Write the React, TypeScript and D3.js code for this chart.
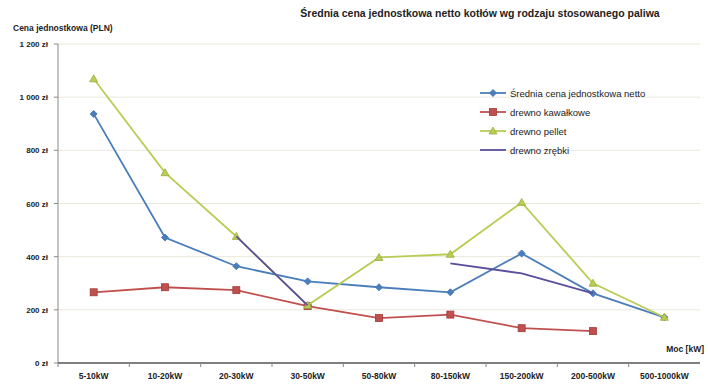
import React from "react";
import * as d3 from "d3";

const categories = ["5-10kW", "10-20kW", "20-30kW", "30-50kW", "50-80kW", "80-150kW", "150-200kW", "200-500kW", "500-1000kW"];
const sredniaValues: (number | null)[] = [937, 472, 364, 307, 285, 266, 412, 262, 172];
const kawalkoweValues: (number | null)[] = [266, 285, 274, 214, 169, 182, 131, 120, null];
const pelletValues: (number | null)[] = [1069, 716, 476, 217, 397, 409, 604, 300, 172];
const zrebkiValues: (number | null)[] = [null, null, 476, 217, null, 375, 337, 262, null];
const yTicks = [0, 200, 400, 600, 800, 1000, 1200];
const tickLabels = ["0 zł", "200 zł", "400 zł", "600 zł", "800 zł", "1 000 zł", "1 200 zł"];

const seriesNames = ["Średnia cena jednostkowa netto", "drewno kawałkowe", "drewno pellet", "drewno zrębki"];
const seriesColors = ["#4a7ebb", "#c0504d", "#b9cd55", "#5a4e9e"];
const seriesMarkers = ["diamond", "square", "triangle", "none"];
const seriesData = [sredniaValues, kawalkoweValues, pelletValues, zrebkiValues];

const W = 708;
const H = 386;
const left = 58;
const right = 700;
const top = 44;
const bottom = 363;

function Marker({ kind, x, y, color }: { kind: string; x: number; y: number; color: string }) {
  if (kind === "diamond") {
    const s = 3.5;
    return <path d={`M${x},${y - s}L${x + s},${y}L${x},${y + s}L${x - s},${y}Z`} fill={color} stroke={color} />;
  }
  if (kind === "square") {
    return <rect x={x - 3.5} y={y - 3.5} width={7} height={7} fill={color} stroke="#a03c3a" strokeWidth={0.8} />;
  }
  if (kind === "triangle") {
    return <path d={`M${x},${y - 4}L${x + 4},${y + 3}L${x - 4},${y + 3}Z`} fill={color} stroke="#9aad3e" strokeWidth={0.8} />;
  }
  return null;
}

export default function App() {
  const x = d3.scaleBand<string>().domain(categories).range([left, right]);
  const y = d3.scaleLinear().domain([0, 1200]).range([bottom, top]);
  const cx = (c: string) => (x(c) ?? 0) + x.bandwidth() / 2;

  const line = d3
    .line<number | null>()
    .defined((d) => d !== null)
    .x((_, i) => cx(categories[i]))
    .y((d) => y(d as number));

  const font = "Arial, 'Liberation Sans', sans-serif";

  return (
    <svg width={W} height={H} style={{ position: "absolute", left: 0, top: 0, background: "#fff" }} fontFamily={font}>
      <rect width={W} height={H} fill="#fff" />
      {/* title */}
      <text x={480} y={17} textAnchor="middle" fontSize={10.5} fontWeight="bold" fill="#222">
        Średnia cena jednostkowa netto kotłów wg rodzaju stosowanego paliwa
      </text>
      <text x={13} y={31} fontSize={8.5} fontWeight="bold" fill="#222">
        Cena jednostkowa (PLN)
      </text>

      {/* grid */}
      {yTicks.slice(1).map((t) => (
        <line key={t} x1={left} x2={right} y1={y(t)} y2={y(t)} stroke="#e8e8dc" strokeWidth={1} />
      ))}

      {/* y axis */}
      <line x1={left} x2={left} y1={top} y2={bottom} stroke="#888" />
      {yTicks.map((t, i) => (
        <g key={t}>
          <line x1={left - 4} x2={left} y1={y(t)} y2={y(t)} stroke="#888" />
          <text x={left - 10} y={y(t) + 3} textAnchor="end" fontSize={8} fontWeight="bold" fill="#222">
            {tickLabels[i]}
          </text>
        </g>
      ))}

      {/* x axis */}
      <line x1={left} x2={right} y1={bottom} y2={bottom} stroke="#555" strokeWidth={1.5} />
      {categories.map((c) => (
        <g key={c}>
          <line x1={x(c)} x2={x(c)} y1={bottom} y2={bottom + 4} stroke="#888" />
          <text x={cx(c)} y={bottom + 16} textAnchor="middle" fontSize={8.5} fontWeight="bold" fill="#222">
            {c}
          </text>
        </g>
      ))}
      <text x={704} y={352} textAnchor="end" fontSize={8.5} fontWeight="bold" fill="#222">
        Moc [kW]
      </text>

      {/* series */}
      {seriesData.map((vals, si) => (
        <g key={si}>
          <path d={line(vals) ?? ""} fill="none" stroke={seriesColors[si]} strokeWidth={1.8} />
          {vals.map((v, i) =>
            v === null ? null : (
              <Marker key={i} kind={seriesMarkers[si]} x={cx(categories[i])} y={y(v)} color={seriesColors[si]} />
            )
          )}
        </g>
      ))}

      {/* legend */}
      {seriesNames.map((n, i) => {
        const ly = 93 + i * 19;
        return (
          <g key={n}>
            <line x1={480} x2={506} y1={ly} y2={ly} stroke={seriesColors[i]} strokeWidth={1.8} />
            <Marker kind={seriesMarkers[i]} x={493} y={ly} color={seriesColors[i]} />
            <text x={510} y={ly + 3.5} fontSize={9.5} fill="#222">
              {n}
            </text>
          </g>
        );
      })}
    </svg>
  );
}
